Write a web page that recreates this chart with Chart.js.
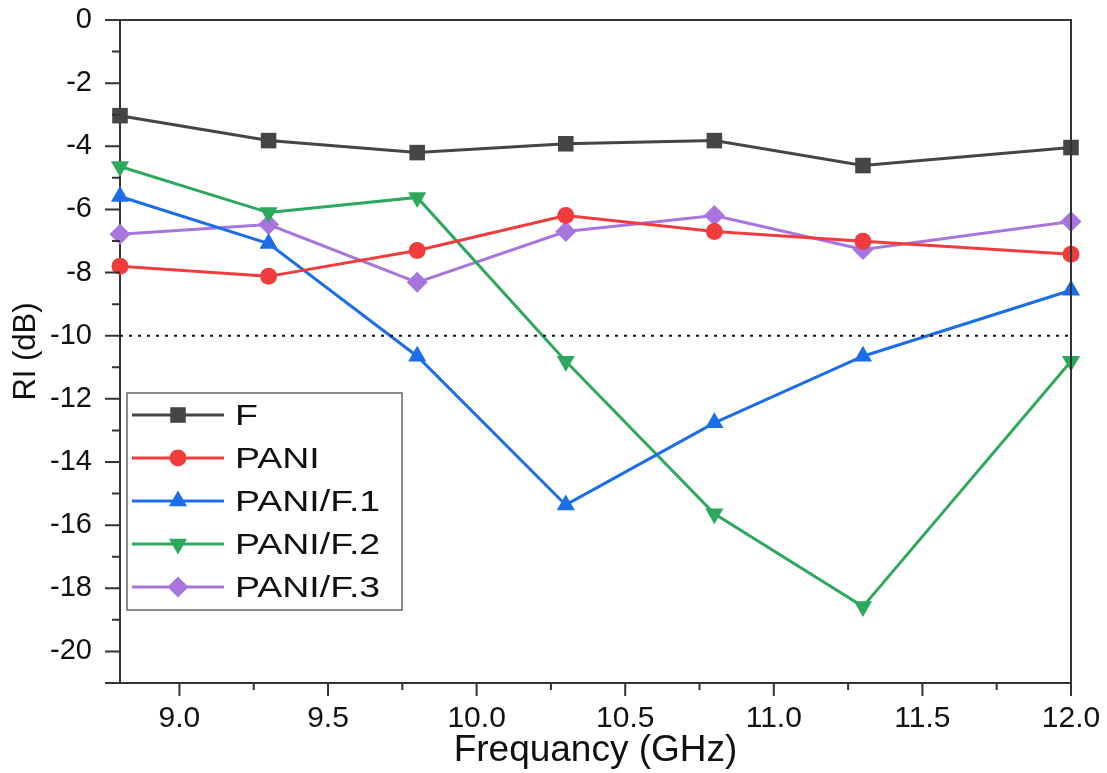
<!DOCTYPE html>
<html>
<head>
<meta charset="utf-8">
<script src="https://cdn.jsdelivr.net/npm/chart.js@4.4.0/dist/chart.umd.min.js"></script>
<style>
  html, body { margin: 0; padding: 0; background: #fff; }
  #wrap { width: 1107px; height: 773px; }
</style>
</head>
<body>
<div id="wrap"><canvas id="rl"></canvas></div>
<script>
// reflection loss vs frequency, five samples
var freq = [8.8, 9.3, 9.8, 10.3, 10.8, 11.3, 12.0];
var rlF     = [-3.03, -3.82, -4.20, -3.92, -3.82, -4.61, -4.04];
var rlPANI  = [-7.80, -8.12, -7.30, -6.19, -6.70, -7.01, -7.42];
var rlPANI1 = [-5.59, -7.08, -10.65, -15.36, -12.76, -10.65, -8.56];
var rlPANI2 = [-4.64, -6.10, -5.62, -10.81, -15.64, -18.58, -10.81];
var rlPANI3 = [-6.79, -6.48, -8.31, -6.70, -6.19, -7.27, -6.38];
var xTicks = [9.0, 9.5, 10.0, 10.5, 11.0, 11.5, 12.0];
var refLevel = -10;
var xRange = [8.8, 12.0];
var yRange = [-21, 0];

var FONT = "'Liberation Sans', Arial, sans-serif";

function pts(ys) {
  return freq.map(function (f, i) { return { x: f, y: ys[i] }; });
}

function series(label, ys, color, style, rot, r) {
  return {
    label: label,
    data: pts(ys),
    borderColor: color,
    backgroundColor: color,
    borderWidth: 3,
    pointStyle: style,
    rotation: rot,
    pointRadius: r,
    pointHoverRadius: r,
    pointBorderWidth: 0,
    clip: false
  };
}

var datasets = [
  {
    label: '',
    data: xRange.map(function (x) { return { x: x, y: refLevel }; }),
    borderColor: '#111',
    borderWidth: 2,
    borderDash: [3, 6],
    pointRadius: 0,
    ref: true
  },
  series('F', rlF, '#454545', 'rect', 0, 11),
  series('PANI', rlPANI, '#f03c3c', 'circle', 0, 8.5),
  series('PANI/F.1', rlPANI1, '#1c6ee8', 'triangle', 0, 10.5),
  series('PANI/F.2', rlPANI2, '#2ea85c', 'triangle', 180, 10.5),
  series('PANI/F.3', rlPANI3, '#a875df', 'rectRot', 0, 10.5)
];

function near(v, step) {
  return Math.abs(v / step - Math.round(v / step)) < 1e-6;
}

var frame = {
  id: 'frame',
  afterDraw: function (chart) {
    var ctx = chart.ctx, a = chart.chartArea;
    var xs = chart.scales.x, ys = chart.scales.y;
    ctx.save();
    ctx.strokeStyle = '#333';
    ctx.lineWidth = 2;
    ctx.beginPath();
    ctx.moveTo(a.left, a.top);
    ctx.lineTo(a.right, a.top);
    ctx.lineTo(a.right, a.bottom);
    ctx.stroke();

    // outward ticks
    ctx.beginPath();
    for (var v = 9.0; v <= xRange[1] + 1e-9; v += 0.25) {
      var px = xs.getPixelForValue(v);
      var len = near(v, 0.5) ? 13 : 7;
      ctx.moveTo(px, a.bottom);
      ctx.lineTo(px, a.bottom + len);
    }
    for (var w = yRange[0]; w <= yRange[1]; w += 1) {
      var py = ys.getPixelForValue(w);
      var l2 = (w % 2 === 0 || w === yRange[0]) ? 15 : 8;
      ctx.moveTo(a.left, py);
      ctx.lineTo(a.left - l2, py);
    }
    ctx.stroke();

    // legend
    var x0 = a.left + 7, y0 = a.top + 373, bw = 275, bh = 217;
    ctx.fillStyle = '#fff';
    ctx.fillRect(x0, y0, bw, bh);
    ctx.strokeStyle = '#666';
    ctx.lineWidth = 1.5;
    ctx.strokeRect(x0, y0, bw, bh);
    var row = 0;
    chart.data.datasets.forEach(function (ds) {
      if (ds.ref) return;
      var cy = y0 + 22 + row * 43;
      ctx.strokeStyle = ds.borderColor;
      ctx.lineWidth = 3;
      ctx.beginPath();
      ctx.moveTo(x0 + 5, cy);
      ctx.lineTo(x0 + 97, cy);
      ctx.stroke();
      ctx.fillStyle = ds.backgroundColor;
      ctx.strokeStyle = ds.borderColor;
      Chart.helpers.drawPoint(ctx, {
        pointStyle: ds.pointStyle,
        rotation: ds.rotation,
        radius: ds.pointRadius,
        borderWidth: 0
      }, x0 + 51, cy);
      // the legend text in the original is drawn wider than normal
      ctx.save();
      ctx.translate(x0 + 108, cy + 2);
      ctx.scale(1.25, 1);
      ctx.fillStyle = '#111';
      ctx.font = '30px ' + FONT;
      ctx.textBaseline = 'middle';
      ctx.textAlign = 'left';
      ctx.fillText(ds.label, 0, 0);
      ctx.restore();
      row++;
    });
    ctx.restore();
  }
};

new Chart('rl', {
  type: 'line',
  data: { datasets: datasets },
  plugins: [frame],
  options: {
    responsive: true,
    maintainAspectRatio: false,
    animation: false,
    layout: { autoPadding: false, padding: { top: 20, right: 36, left: 0, bottom: 0 } },
    plugins: { legend: { display: false }, tooltip: { enabled: false } },
    scales: {
      x: {
        type: 'linear',
        min: xRange[0],
        max: xRange[1],
        afterFit: function (s) {
          s.height = 90;
          s.paddingLeft = 0; s.paddingRight = 0;
        },
        afterBuildTicks: function (s) {
          s.ticks = xTicks.map(function (v) { return { value: v }; });
        },
        grid: { drawOnChartArea: false, drawTicks: false },
        border: { display: true, color: '#333', width: 2 },
        ticks: {
          autoSkip: false,
          maxRotation: 0,
          padding: 18,
          color: '#111',
          font: { family: FONT, size: 30 },
          callback: function (v) { return v.toFixed(1); }
        },
        title: {
          display: true,
          text: 'Frequancy (GHz)',
          color: '#111',
          font: { family: FONT, size: 37 },
          padding: { top: 0, bottom: 0 }
        }
      },
      y: {
        type: 'linear',
        min: yRange[0],
        max: yRange[1],
        afterFit: function (s) {
          s.width = 120;
          s.paddingTop = 0; s.paddingBottom = 0;
        },
        grid: { drawOnChartArea: false, drawTicks: false },
        border: { display: true, color: '#333', width: 2 },
        ticks: {
          stepSize: 1,
          autoSkip: false,
          padding: 28,
          color: '#111',
          font: { family: FONT, size: 29 },
          callback: function (v) { return v % 2 === 0 ? String(v) : ''; }
        },
        title: {
          display: true,
          text: 'RI (dB)',
          color: '#111',
          font: { family: FONT, size: 31 },
          padding: { top: 8, bottom: 0 }
        }
      }
    }
  }
});
</script>
</body>
</html>
